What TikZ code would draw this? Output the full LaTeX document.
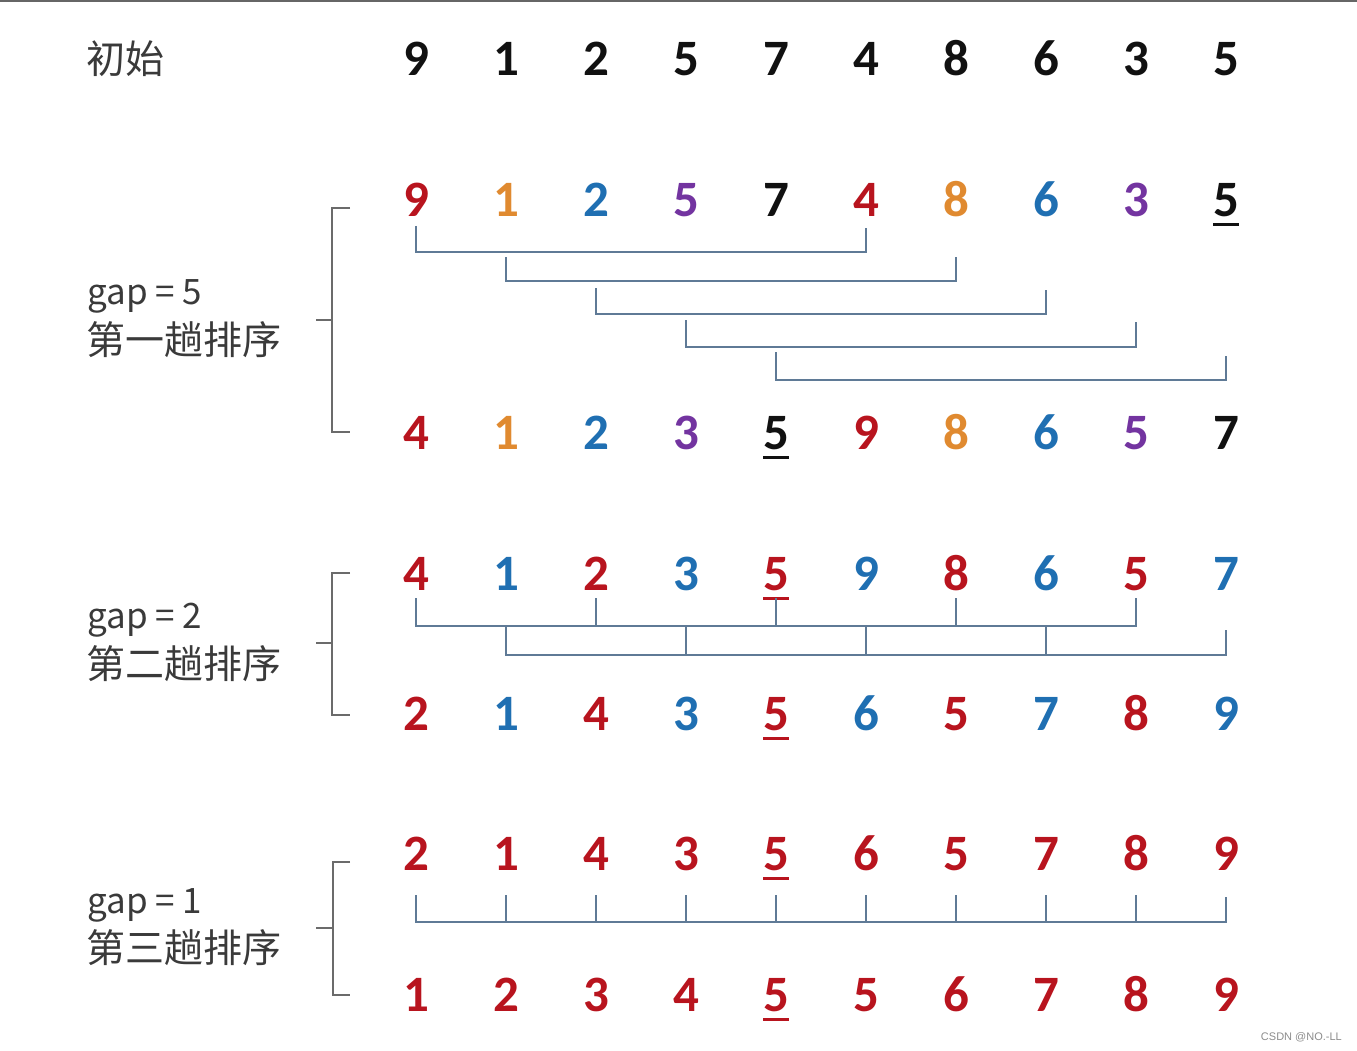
\documentclass[tikz,border=0pt]{standalone}
\usepackage{fontspec}
\setmainfont{Carlito}
\newfontfamily\cjk{Noto Sans CJK SC}
\newfontfamily\wmfont{Liberation Sans}
\definecolor{cK}{HTML}{111111}
\definecolor{cR}{HTML}{B8141E}
\definecolor{cB}{HTML}{1F6FB2}
\definecolor{cO}{HTML}{E08A30}
\definecolor{cP}{HTML}{7334A0}
\definecolor{cT}{HTML}{3A3A3A}
\definecolor{cConn}{HTML}{5F7A96}
\definecolor{cBrk}{HTML}{6B6B6B}
\newcommand\ulnum[1]{\setbox0\hbox{#1}\rlap{\rule[-10pt]{\wd0}{3pt}}\box0}
\begin{document}
\begin{tikzpicture}[x=1pt,y=-1pt,
  dig/.style={font=\fontsize{51}{60}\selectfont\bfseries, inner sep=0pt, text depth=0pt, anchor=base},
  lbl/.style={font=\cjk\fontsize{39}{46}\selectfont, text=cT, inner sep=0pt, anchor=west},
  gaplbl/.style={font=\cjk\fontsize{35}{42}\selectfont, text=cT, inner sep=0pt, anchor=west},
  conn/.style={draw=cConn, line width=2pt},
  brk/.style={draw=cBrk, line width=2pt}]
\useasboundingbox (0,0) rectangle (1357,1051);
\fill[black!60] (0,0) rectangle (1357,2.5);
% labels
\node[lbl] (init) at (86,59) {初始};
\node[gaplbl] (g5) at (87,296) {gap = 5};
\node[lbl] (p1) at (86,340) {第一趟排序};
\node[gaplbl] (g2) at (87,620) {gap = 2};
\node[lbl] (p2) at (86,664) {第二趟排序};
\node[gaplbl] (g1) at (87,905) {gap = 1};
\node[lbl] (p3) at (86,948) {第三趟排序};
% rows of digits
\foreach \v/\c [count=\i from 0] in {9/cK,1/cK,2/cK,5/cK,7/cK,4/cK,8/cK,6/cK,3/cK,5/cK}
  \node[dig,text=\c] (n0-\i) at ({416+90*\i},76) {\v};
\foreach \v/\c [count=\i from 0] in {9/cR,1/cO,2/cB,5/cP,7/cK,4/cR,8/cO,6/cB,3/cP,\ulnum{5}/cK}
  \node[dig,text=\c] (n1-\i) at ({416+90*\i},216) {\v};
\foreach \v/\c [count=\i from 0] in {4/cR,1/cO,2/cB,3/cP,\ulnum{5}/cK,9/cR,8/cO,6/cB,5/cP,7/cK}
  \node[dig,text=\c] (n2-\i) at ({416+90*\i},449) {\v};
\foreach \v/\c [count=\i from 0] in {4/cR,1/cB,2/cR,3/cB,\ulnum{5}/cR,9/cB,8/cR,6/cB,5/cR,7/cB}
  \node[dig,text=\c] (n3-\i) at ({416+90*\i},590) {\v};
\foreach \v/\c [count=\i from 0] in {2/cR,1/cB,4/cR,3/cB,\ulnum{5}/cR,6/cB,5/cR,7/cB,8/cR,9/cB}
  \node[dig,text=\c] (n4-\i) at ({416+90*\i},730) {\v};
\foreach \v [count=\i from 0] in {2,1,4,3,\ulnum{5},6,5,7,8,9}
  \node[dig,text=cR] (n5-\i) at ({416+90*\i},870) {\v};
\foreach \v [count=\i from 0] in {1,2,3,4,\ulnum{5},5,6,7,8,9}
  \node[dig,text=cR] (n6-\i) at ({416+90*\i},1011) {\v};
% brackets
\draw[brk] (350,208) -- (332,208) -- (332,432) -- (350,432);
\draw[brk] (316,320) -- (332,320);
\draw[brk] (350,573) -- (332,573) -- (332,715) -- (350,715);
\draw[brk] (316,643) -- (332,643);
\draw[brk] (350,862) -- (333,862) -- (333,995) -- (350,995);
\draw[brk] (316,928) -- (333,928);
% gap = 5 connectors
\begin{scope}[xshift=3pt]
\draw[conn] (n1-0 |- 0,226) |- (n1-5 |- 0,252) -- (n1-5 |- 0,228);
\draw[conn] (n1-1 |- 0,257) |- (n1-6 |- 0,281) -- (n1-6 |- 0,257);
\draw[conn] (n1-2 |- 0,288) |- (n1-7 |- 0,314) -- (n1-7 |- 0,290);
\draw[conn] (n1-3 |- 0,320) |- (n1-8 |- 0,347) -- (n1-8 |- 0,322);
\draw[conn] (n1-4 |- 0,352) |- (n1-9 |- 0,380) -- (n1-9 |- 0,356);
% gap = 2 connectors
\draw[conn] (n3-0 |- 0,598) |- (n3-8 |- 0,626) -- (n3-8 |- 0,598);
\foreach \k in {2,4,6} \draw[conn] (n3-\k |- 0,598) -- (n3-\k |- 0,626);
\draw[conn] (n3-1 |- 0,626) |- (n3-9 |- 0,655) -- (n3-9 |- 0,630);
\foreach \k in {3,5,7} \draw[conn] (n3-\k |- 0,626) -- (n3-\k |- 0,655);
% gap = 1 connectors
\draw[conn] (n5-0 |- 0,895) |- (n5-9 |- 0,922) -- (n5-9 |- 0,897);
\foreach \k in {1,...,8} \draw[conn] (n5-\k |- 0,895) -- (n5-\k |- 0,922);
\end{scope}
% watermark
\node[font=\wmfont\fontsize{11}{13}\selectfont, text=black!45, anchor=east, inner sep=0pt] (wm) at (1342,1037) {CSDN @NO.-LL};
\end{tikzpicture}
\end{document}
